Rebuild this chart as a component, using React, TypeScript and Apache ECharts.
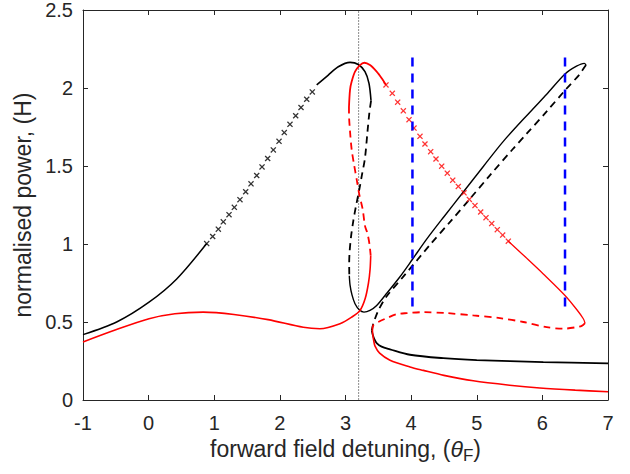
import { useEffect, useRef } from "react";
import * as echarts from "echarts";

type Pt = [number, number];

// Axis ranges and tick spacing
const xRange: Pt = [-1, 7];
const yRange: Pt = [0, 2.5];
const xStep = 1;
const yStep = 0.5;

// Forward-field branch (black)
const blackStableLeft: Pt[] = [
  [-1, 0.419], [-0.487, 0.5], [0.006, 0.627], [0.428, 0.776], [0.885, 1.003],
];
const blackCrossPts: Pt[] = [
  [0.885, 1.003], [0.976, 1.048], [1.062, 1.095], [1.138, 1.142], [1.225, 1.188],
  [1.306, 1.235], [1.392, 1.284], [1.479, 1.335], [1.56, 1.386], [1.647, 1.439],
  [1.728, 1.494], [1.814, 1.548], [1.9, 1.603], [1.987, 1.658], [2.067, 1.714],
  [2.154, 1.767], [2.241, 1.822], [2.322, 1.875], [2.409, 1.928], [2.494, 1.975],
];
const blackStableUpper: Pt[] = [
  [2.561, 2.02], [2.738, 2.083], [2.89, 2.136], [3.069, 2.164], [3.195, 2.151],
  [3.297, 2.105], [3.358, 2.03], [3.389, 1.918],
];
const blackUnstableInner: Pt[] = [
  [3.389, 1.918], [3.363, 1.839], [3.335, 1.72], [3.297, 1.552], [3.247, 1.435],
  [3.206, 1.339], [3.16, 1.244], [3.119, 1.148], [3.084, 1.046], [3.062, 0.946],
  [3.056, 0.87], [3.058, 0.797],
];
const blackStableMid: Pt[] = [
  [3.058, 0.797], [3.07, 0.735], [3.1, 0.672], [3.145, 0.617], [3.21, 0.578],
  [3.282, 0.563], [3.373, 0.574], [3.475, 0.606], [3.602, 0.67], [3.83, 0.79],
  [4.024, 0.904], [4.237, 1.031], [4.5, 1.175], [4.795, 1.333], [5.1, 1.497],
  [5.405, 1.658], [5.81, 1.845], [6.066, 1.96], [6.345, 2.09], [6.52, 2.14],
  [6.639, 2.158], [6.665, 2.147],
];
const blackUnstableOuter: Pt[] = [
  [6.665, 2.147], [6.62, 2.12], [6.573, 2.09], [6.345, 1.985], [6.066, 1.85],
  [5.761, 1.707], [5.557, 1.612], [5.2, 1.44], [4.897, 1.29], [4.6, 1.145],
  [4.288, 0.995], [3.9, 0.8], [3.628, 0.665], [3.5, 0.574], [3.424, 0.489],
  [3.4, 0.446],
];
const blackLowerBranch: Pt[] = [
  [3.4, 0.446], [3.414, 0.42], [3.44, 0.39], [3.475, 0.365], [3.55, 0.342],
  [3.678, 0.325], [3.983, 0.29], [4.49, 0.268], [5.0, 0.256], [6.014, 0.243],
  [7.0, 0.235],
];

// Backward-field branch (red)
const redStableLeft: Pt[] = [
  [-1, 0.372], [-0.5, 0.45], [0.006, 0.521], [0.4, 0.553], [0.833, 0.563],
  [1.3, 0.548], [1.82, 0.515], [2.357, 0.466], [2.61, 0.457], [2.916, 0.489],
  [3.094, 0.531], [3.221, 0.574], [3.3, 0.65], [3.35, 0.75], [3.375, 0.84],
  [3.384, 0.925],
];
const redUnstableInner: Pt[] = [
  [3.384, 0.925], [3.365, 1.0], [3.333, 1.07], [3.297, 1.116], [3.262, 1.222],
  [3.21, 1.318], [3.17, 1.414], [3.13, 1.51], [3.094, 1.605], [3.069, 1.722],
  [3.053, 1.839], [3.053, 1.878],
];
const redStableUpper: Pt[] = [
  [3.053, 1.878], [3.069, 1.988], [3.094, 2.041], [3.145, 2.105], [3.221, 2.147],
  [3.287, 2.162], [3.373, 2.147], [3.475, 2.105], [3.552, 2.062], [3.617, 2.02],
];
const redCrossPts: Pt[] = [
  [3.617, 2.02], [3.713, 1.966], [3.795, 1.909], [3.881, 1.854], [3.968, 1.797],
  [4.044, 1.743], [4.135, 1.69], [4.211, 1.641], [4.298, 1.592], [4.379, 1.545],
  [4.466, 1.499], [4.551, 1.454], [4.634, 1.409], [4.719, 1.369], [4.806, 1.328],
  [4.887, 1.286], [4.973, 1.246], [5.06, 1.205], [5.141, 1.169], [5.228, 1.131],
  [5.313, 1.092], [5.395, 1.057], [5.481, 1.018],
];
const redStableRight: Pt[] = [
  [5.481, 1.018], [5.75, 0.913], [6.014, 0.808], [6.345, 0.67], [6.523, 0.58],
  [6.624, 0.521], [6.65, 0.493],
];
const redUnstableOuter: Pt[] = [
  [6.65, 0.493], [6.6, 0.475], [6.523, 0.467], [6.319, 0.457], [6.066, 0.467],
  [5.71, 0.5], [5.354, 0.525], [4.947, 0.542], [4.542, 0.557], [4.186, 0.563],
  [3.933, 0.557], [3.78, 0.55], [3.628, 0.525], [3.5, 0.5], [3.424, 0.48],
  [3.41, 0.45],
];
const redLowerBranch: Pt[] = [
  [3.41, 0.45], [3.414, 0.425], [3.43, 0.38], [3.45, 0.345], [3.52, 0.3],
  [3.678, 0.255], [3.983, 0.212], [4.186, 0.19], [4.5, 0.158], [4.947, 0.123],
  [5.5, 0.095], [5.962, 0.077], [6.5, 0.063], [7.0, 0.053],
];

// Reference markers
const resonanceX = 3.2;
const driveDetunings = [4.02, 6.345];
const driveSpan: Pt = [0.6, 2.2];

const TEXT = "#262626";
const FONT = "'Liberation Sans', Arial, Helvetica, sans-serif";
const CROSS =
  "path://M0,1.5L1.5,0L5,3.5L8.5,0L10,1.5L6.5,5L10,8.5L8.5,10L5,6.5L1.5,10L0,8.5L3.5,5Z";

function curve(data: Pt[], color: string, width: number, dashed: boolean) {
  return {
    type: "line",
    data,
    showSymbol: false,
    symbol: "none",
    smooth: 0.3,
    lineStyle: { color, width, type: dashed ? [7, 5] : "solid" },
    z: 3,
  };
}

function crosses(data: Pt[], color: string) {
  return {
    type: "scatter",
    data,
    symbol: CROSS,
    symbolSize: 6,
    itemStyle: { color },
    z: 4,
  };
}

export default function App() {
  const ref = useRef<HTMLDivElement>(null);

  useEffect(() => {
    if (!ref.current) return;
    const chart = echarts.init(ref.current, undefined, { renderer: "svg" });

    const axisLine = { show: true, onZero: false, lineStyle: { color: TEXT, width: 1 } };
    const axisTick = { show: true, inside: true, length: 5, lineStyle: { color: TEXT } };

    chart.setOption({
      animation: false,
      backgroundColor: "#ffffff",
      grid: { left: 83, right: 22, top: 8, bottom: 74, containLabel: false },
      xAxis: [
        {
          type: "value",
          position: "bottom",
          min: xRange[0],
          max: xRange[1],
          interval: xStep,
          axisLine,
          axisTick,
          splitLine: { show: false },
          axisLabel: { color: TEXT, fontSize: 20, fontFamily: FONT, margin: 13 },
          name: "{a|forward field detuning, (}{i|θ}{s|F}{a|)}",
          nameLocation: "middle",
          nameGap: 30,
          nameTextStyle: {
            rich: {
              a: { fontSize: 23, fontFamily: FONT, color: TEXT, lineHeight: 30, verticalAlign: "middle" },
              i: { fontSize: 23, fontFamily: FONT, fontStyle: "italic", color: TEXT, lineHeight: 30, verticalAlign: "middle" },
              s: { fontSize: 17, fontFamily: FONT, color: TEXT, lineHeight: 17, verticalAlign: "bottom" },
            },
          },
        },
        {
          type: "value",
          position: "top",
          min: xRange[0],
          max: xRange[1],
          interval: xStep,
          axisLine,
          axisTick,
          splitLine: { show: false },
          axisLabel: { show: false },
        },
      ],
      yAxis: [
        {
          type: "value",
          position: "left",
          min: yRange[0],
          max: yRange[1],
          interval: yStep,
          axisLine,
          axisTick,
          splitLine: { show: false },
          axisLabel: { color: TEXT, fontSize: 20, fontFamily: FONT, margin: 10 },
          name: "normalised power, (H)",
          nameLocation: "middle",
          nameGap: 44,
          nameTextStyle: { color: TEXT, fontSize: 23, fontFamily: FONT },
        },
        {
          type: "value",
          position: "right",
          min: yRange[0],
          max: yRange[1],
          interval: yStep,
          axisLine,
          axisTick,
          splitLine: { show: false },
          axisLabel: { show: false },
        },
      ],
      series: [
        {
          type: "line",
          data: [[resonanceX, yRange[0]], [resonanceX, yRange[1]]],
          showSymbol: false,
          symbol: "none",
          lineStyle: { color: "#8c8c8c", width: 1, type: [2, 1] },
          z: 2,
        },
        ...driveDetunings.map((x) => ({
          type: "line",
          data: [[x, driveSpan[0]], [x, driveSpan[1]]],
          showSymbol: false,
          symbol: "none",
          lineStyle: { color: "#0000ff", width: 2.5, type: [9, 7] },
          z: 5,
        })),
        curve(blackStableLeft, "#000000", 1.5, false),
        crosses(blackCrossPts, "#000000"),
        curve(blackStableUpper, "#000000", 1.6, false),
        curve(blackUnstableInner, "#000000", 1.8, true),
        curve(blackStableMid, "#000000", 1.4, false),
        curve(blackUnstableOuter, "#000000", 1.8, true),
        curve(blackLowerBranch, "#000000", 1.8, false),
        curve(redStableLeft, "#ff0000", 1.6, false),
        curve(redUnstableInner, "#ff0000", 1.8, true),
        curve(redStableUpper, "#ff0000", 1.8, false),
        crosses(redCrossPts, "#ff0000"),
        curve(redStableRight, "#ff0000", 1.3, false),
        curve(redUnstableOuter, "#ff0000", 1.8, true),
        curve(redLowerBranch, "#ff0000", 1.6, false),
      ],
    });

    return () => chart.dispose();
  }, []);

  return (
    <div
      ref={ref}
      style={{ position: "absolute", left: 0, top: 0, width: 630, height: 474, background: "#fff" }}
    />
  );
}
